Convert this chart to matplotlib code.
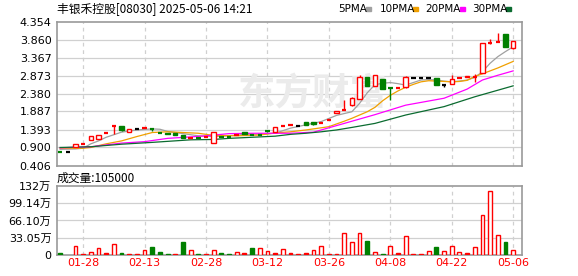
import matplotlib
matplotlib.use("Agg")
import matplotlib.pyplot as plt
from matplotlib.patches import Rectangle

plt.rcParams["font.family"] = ["DejaVu Sans", "Noto Sans CJK SC"]

RED = "#ff0000"
GREEN = "#008000"
GRID = "#d0d0d0"
FRAME = "#999999"

# ── data (one entry per trading day, left to right) ─────────────────────────
opens = [0.77, 0.77, 0.92, 0.99, 1.11, 1.13, 1.29, 1.48, 1.49, 1.33,
         1.40, 1.43, 1.42, 1.30, 1.29, 1.29, 1.23, 1.16, 1.17, 1.18,
         1.02, 1.20, 1.18, 1.24, 1.32, 1.24, 1.24, 1.35, 1.33, 1.50,
         1.52, 1.50, 1.59, 1.59, 1.56, 1.66, 1.84, 1.93, 2.07, 2.22,
         2.82, 2.58, 2.78, 2.52, 2.52, 2.55, 2.80, 2.80, 2.80, 2.80,
         2.61, 2.63, 2.80, 2.82, 2.82, 2.95, 3.77, 3.80, 4.01, 3.64]
highs = [0.77, 0.77, 0.99, 0.99, 1.21, 1.23, 1.29, 1.48, 1.49, 1.41,
         1.40, 1.43, 1.43, 1.30, 1.29, 1.29, 1.23, 1.16, 1.17, 1.18,
         1.32, 1.20, 1.18, 1.24, 1.32, 1.24, 1.24, 1.35, 1.47, 1.50,
         1.52, 1.50, 1.59, 1.59, 1.56, 1.66, 1.89, 2.20, 2.29, 2.89,
         2.82, 2.89, 2.78, 2.52, 2.52, 2.85, 2.80, 2.80, 2.80, 2.80,
         2.61, 2.89, 2.80, 2.87, 2.91, 3.76, 3.87, 4.03, 4.01, 3.82]
lows = [0.77, 0.77, 0.92, 0.99, 1.11, 1.13, 1.29, 1.28, 1.36, 1.33,
        1.40, 1.43, 1.36, 1.30, 1.26, 1.25, 1.16, 1.16, 1.17, 1.18,
        1.02, 1.20, 1.18, 1.24, 1.26, 1.24, 1.24, 1.32, 1.33, 1.50,
        1.52, 1.50, 1.53, 1.52, 1.56, 1.66, 1.84, 1.93, 2.04, 2.22,
        2.59, 2.58, 2.50, 2.20, 2.52, 2.52, 2.80, 2.80, 2.80, 2.62,
        2.55, 2.63, 2.80, 2.82, 2.70, 2.95, 3.73, 3.80, 3.66, 3.59]
closes = [0.77, 0.77, 0.99, 0.99, 1.21, 1.23, 1.29, 1.48, 1.39, 1.41,
          1.40, 1.43, 1.42, 1.30, 1.26, 1.25, 1.16, 1.16, 1.17, 1.18,
          1.32, 1.20, 1.18, 1.24, 1.26, 1.24, 1.24, 1.35, 1.47, 1.50,
          1.52, 1.50, 1.53, 1.54, 1.56, 1.66, 1.89, 1.93, 2.25, 2.84,
          2.59, 2.89, 2.50, 2.52, 2.52, 2.82, 2.80, 2.80, 2.80, 2.62,
          2.61, 2.78, 2.80, 2.87, 2.82, 3.76, 3.77, 3.80, 3.66, 3.82]
# u = up (hollow red), g = down (green), r = flat red, k = flat black
candle_kind = ["g", "k", "u", "r", "u", "u", "r", "r", "g", "u",
               "k", "r", "g", "g", "g", "g", "g", "r", "g", "r",
               "u", "g", "g", "r", "g", "g", "g", "g", "u", "r",
               "r", "k", "g", "g", "r", "r", "u", "r", "u", "u",
               "g", "u", "g", "g", "r", "u", "k", "k", "k", "g",
               "k", "u", "r", "u", "r", "u", "r", "r", "g", "u"]
volumes = [4.5, 0, 17, 2, 5, 13, 4, 22, 4, 2,
           2, 9, 15, 6, 2, 2, 25, 9, 2, 2,
           10, 4, 2, 6, 4, 14, 13, 7, 4, 11,
           3, 2.5, 4, 10, 17, 1.5, 1.5, 41.5, 24, 41.5,
           27, 5, 1, 17, 4, 36, 1, 1, 7, 15,
           8, 17, 5, 4, 15, 76.5, 122, 38, 24, 10.5]
vol_kind = ["g", "k", "u", "r", "u", "u", "r", "u", "g", "r",
            "r", "u", "g", "g", "g", "r", "g", "u", "g", "r",
            "u", "g", "g", "u", "r", "g", "u", "u", "r", "u",
            "r", "r", "r", "u", "u", "r", "r", "u", "u", "u",
            "g", "u", "g", "u", "r", "u", "r", "r", "u", "g",
            "u", "u", "u", "r", "u", "u", "u", "u", "g", "u"]

ma5_day = [0, 2, 3, 4, 5, 6, 7, 8, 10, 12, 13, 14, 16, 18, 20, 22, 24, 26,
           28, 29, 30, 32, 34, 36, 38, 39, 40, 41, 42, 43, 44, 45, 46, 47,
           48, 49, 50, 51, 52, 53, 54, 55, 56, 57, 58, 59]
ma5_val = [0.85, 0.86, 0.88, 1.00, 1.08, 1.18, 1.25, 1.32, 1.38, 1.41, 1.40,
           1.34, 1.28, 1.22, 1.20, 1.22, 1.26, 1.26, 1.29, 1.36, 1.43, 1.52,
           1.61, 1.78, 1.88, 2.11, 2.40, 2.62, 2.66, 2.68, 2.65, 2.61, 2.68,
           2.75, 2.76, 2.75, 2.72, 2.70, 2.72, 2.75, 2.82, 2.98, 3.21, 3.39,
           3.53, 3.66]
ma10_day = [0, 3, 4, 6, 8, 10, 12, 14, 16, 18, 20, 23, 26, 28, 30, 32, 34,
            35, 37, 38, 40, 41, 42, 43, 44, 45, 46, 47, 48, 49, 51, 52, 53,
            54, 55, 56, 57, 58, 59]
ma10_val = [0.88, 0.88, 0.90, 1.00, 1.08, 1.20, 1.31, 1.33, 1.31, 1.29,
            1.23, 1.22, 1.24, 1.30, 1.33, 1.38, 1.44, 1.47, 1.62, 1.70,
            1.88, 2.00, 2.18, 2.33, 2.45, 2.55, 2.63, 2.70, 2.73, 2.72,
            2.70, 2.71, 2.74, 2.85, 2.92, 3.00, 3.08, 3.17, 3.26]
ma20_day = [0, 4, 8, 11, 14, 17, 19, 20, 22, 25, 28, 30, 33, 36, 38, 41,
            45, 50, 53, 55, 57, 59]
ma20_val = [0.89, 0.92, 1.02, 1.06, 1.15, 1.19, 1.22, 1.24, 1.28, 1.29,
            1.29, 1.29, 1.32, 1.50, 1.62, 1.80, 2.06, 2.25, 2.50, 2.75,
            2.88, 3.00]
ma30_day = [0, 4, 8, 12, 17, 20, 22, 25, 28, 30, 32, 34, 36, 38, 41, 45,
            50, 54, 57, 59]
ma30_val = [0.90, 0.92, 0.99, 1.04, 1.11, 1.12, 1.15, 1.18, 1.21, 1.26,
            1.29, 1.33, 1.38, 1.45, 1.56, 1.79, 2.02, 2.29, 2.47, 2.59]

price_ticks = [0.406, 0.900, 1.393, 1.887, 2.380, 2.873, 3.367, 3.860, 4.354]
vol_ticks = [0, 33.05, 66.10, 99.14, 132.19]
vol_tick_labels = ["0", "33.05万", "66.10万", "99.14万", "132万"]
date_days = [3, 11, 19, 27, 35, 43, 51, 59]
date_labels = ["01-28", "02-13", "02-28", "03-12", "03-26", "04-08", "04-22", "05-06"]

# ── figure ──────────────────────────────────────────────────────────────────
W, H = 578, 276
fig = plt.figure(figsize=(W / 100, H / 100), dpi=100)
fig.patch.set_facecolor("white")


def px_axes(x0, y0, x1, y1):
    return fig.add_axes([x0 / W, 1 - y1 / H, (x1 - x0) / W, (y1 - y0) / H])


ax = px_axes(57, 21.5, 522, 165.5)
axv = px_axes(57, 186, 522, 255)

for a in (ax, axv):
    a.set_xlim(-0.4, 60.15)
    for s in a.spines.values():
        s.set_color(FRAME)
        s.set_linewidth(1.2)
    a.tick_params(length=0, labelsize=8, pad=4)
    a.set_xticks([])
    for d in date_days:
        a.axvline(d, color=GRID, lw=0.9, ls=(0, (3, 3)), zorder=0)

ax.set_ylim(price_ticks[0], price_ticks[-1])
ax.set_yticks(price_ticks)
ax.set_yticklabels([f"{v:.3f}" for v in price_ticks])
for v in price_ticks[1:-1]:
    ax.axhline(v, color=GRID, lw=0.9, zorder=0)

axv.set_ylim(0, vol_ticks[-1])
axv.set_yticks(vol_ticks)
axv.set_yticklabels(vol_tick_labels, family=["DejaVu Sans", "Noto Sans CJK SC"])
for v in vol_ticks[1:-1]:
    axv.axhline(v, color=GRID, lw=0.9, zorder=0)

# watermark
ax.text(0.39, 0.50, "东方财富", transform=ax.transAxes, fontsize=27,
        family="Noto Sans CJK SC", fontweight="bold", style="italic",
        color="#ebebeb", ha="left", va="center", zorder=0.5)

# moving averages
ax.plot(ma5_day, ma5_val, color="#a0a0a0", lw=0.9, zorder=2)
ax.plot(ma10_day, ma10_val, color="#f0a000", lw=0.9, zorder=2)
ax.plot(ma20_day, ma20_val, color="#ff00ff", lw=0.9, zorder=2)
ax.plot(ma30_day, ma30_val, color="#0b6b30", lw=0.9, zorder=2)

# candles
bw = 0.58
colors = {"u": RED, "r": RED, "g": GREEN, "k": "black"}
for i in range(len(opens)):
    o, h, l, c, k = opens[i], highs[i], lows[i], closes[i], candle_kind[i]
    col = colors[k]
    lo, hi = min(o, c), max(o, c)
    if h > hi:
        ax.vlines(i, hi, h, color=col, lw=1, zorder=3)
    if l < lo:
        ax.vlines(i, l, lo, color=col, lw=1, zorder=3)
    if hi - lo < 0.005:
        ax.hlines(o, i - bw / 2, i + bw / 2, color=col, lw=1.6, zorder=4)
    else:
        ax.add_patch(Rectangle((i - bw / 2, lo), bw, hi - lo,
                               facecolor="white" if k == "u" else col,
                               edgecolor=col, lw=1, zorder=4))

# volume bars
for i, v in enumerate(volumes):
    k = vol_kind[i]
    if v <= 0:
        continue
    col = colors[k]
    axv.bar(i, v, width=bw - 0.08, facecolor="white" if k == "u" else col,
            edgecolor=col, lw=1, zorder=3)

# date labels
for d, lab in zip(date_days, date_labels):
    axv.text(d, -6, lab, color=RED, fontsize=8, ha="center", va="top")

# title, legend, volume caption
fig.text(57 / W, 1 - 9 / H, "丰银禾控股[08030] 2025-05-06 14:21",
         fontsize=8.5, family=["Noto Sans CJK SC", "DejaVu Sans"], va="center")
leg = [("5PMA", "#a0a0a0", 338), ("10PMA", "#f0a000", 380),
       ("20PMA", "#ff00ff", 425), ("30PMA", "#0b6b30", 472)]
for lab, col, x in leg:
    fig.text(x / W, 1 - 9 / H, lab, fontsize=7.5, va="center")
for (lab, col, x), xm in zip(leg, [366, 413, 460, 506]):
    fig.patches.append(Rectangle((xm / W, 1 - 10.5 / H), 5 / W, 3 / H,
                                 transform=fig.transFigure, color=col))
fig.text(57 / W, 1 - 178 / H, "成交量:105000", fontsize=8.5,
         family=["Noto Sans CJK SC", "DejaVu Sans"], va="center")

fig.savefig("out.png", dpi=100)
